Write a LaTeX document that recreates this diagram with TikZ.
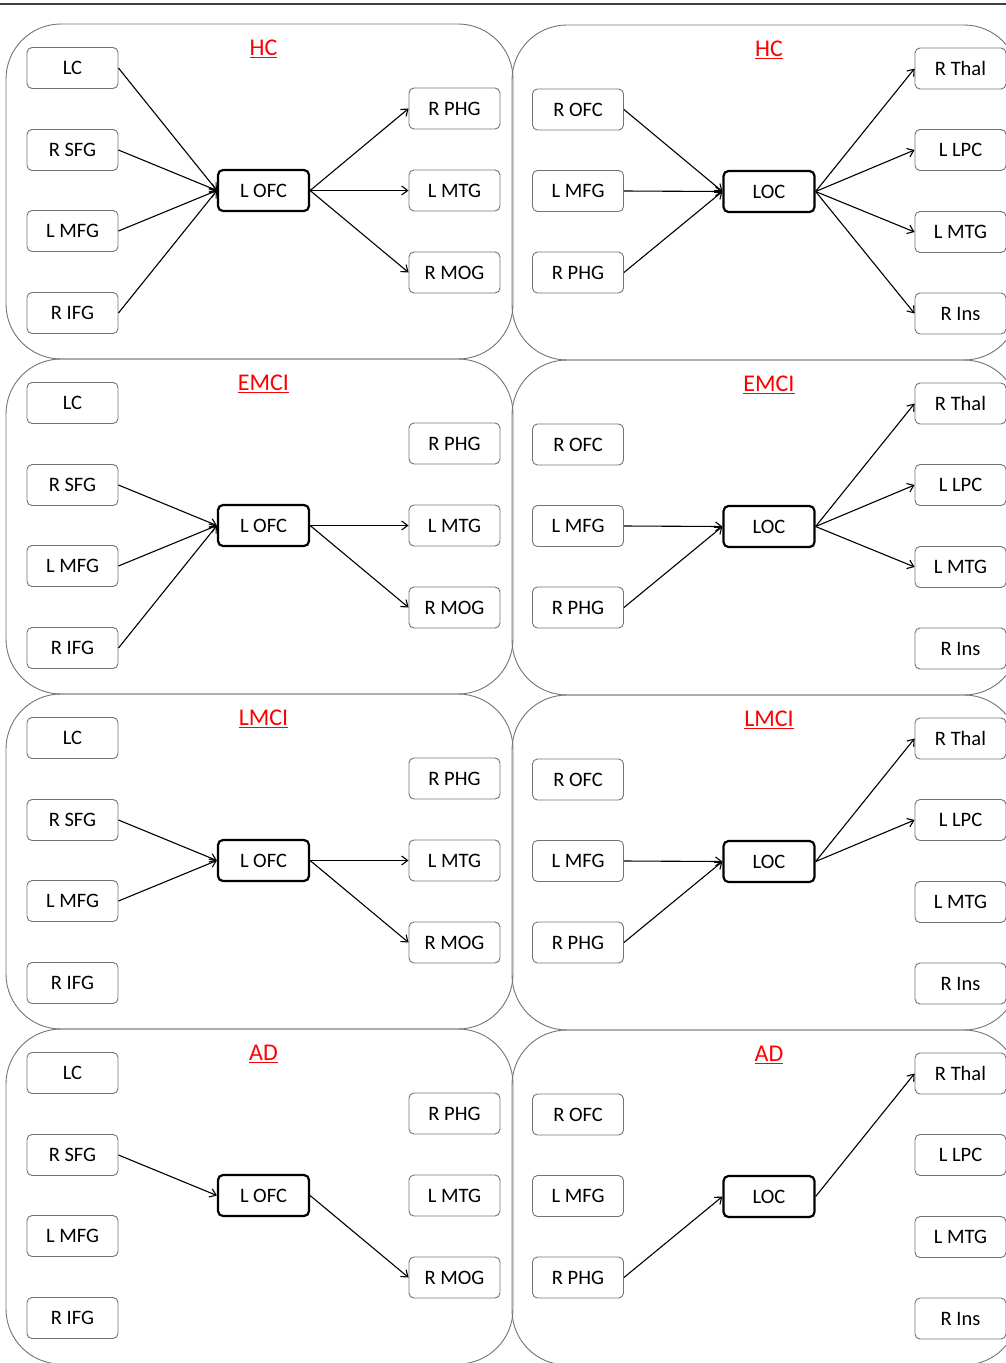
\documentclass[tikz,border=0pt]{standalone}
\usepackage{fontspec}
\setmainfont{Carlito}
\usetikzlibrary{arrows.meta}
\tikzset{
  panel/.style={draw=black!55, line width=0.9pt, rounded corners=55pt},
  region/.style={draw=black!55, line width=0.9pt, rounded corners=5pt,
    minimum width=91pt, minimum height=41pt, inner sep=0pt,
    text height=13pt, text depth=0pt, font=\fontsize{20.5}{21}\selectfont},
  hub/.style={region, draw=black, line width=2.2pt},
  link/.style={draw=black, line width=1.1pt, -{Straight Barb[length=6pt,width=9pt]}},
  grouptitle/.style={text=red, anchor=base, font=\fontsize{24}{26}\selectfont},
}
\newcommand{\leftgroup}[3]{%
  \begin{scope}[shift={(0,#2)}]
    \draw[panel] (6,24) rectangle (513,359);
    \node[grouptitle] (#1title) at (263.5,55.5) {\underline{#3}};
    \node[region] (#1LC)   at (72.5,68)  {LC};
    \node[region] (#1RSFG) at (72.5,150) {R SFG};
    \node[region] (#1LMFG) at (72.5,231) {L MFG};
    \node[region] (#1RIFG) at (72.5,313) {R IFG};
    \node[hub]    (#1LOFC) at (263.5,190.5) {L OFC};
    \node[region] (#1RPHG) at (454.5,108.5) {R PHG};
    \node[region] (#1LMTG) at (454.5,190.5) {L MTG};
    \node[region] (#1RMOG) at (454.5,272.5) {R MOG};
  \end{scope}}
\newcommand{\rightgroup}[3]{%
  \begin{scope}[shift={(0,#2)}]
    \draw[panel] (512,25) rectangle (1019,360);
    \node[grouptitle] (#1title) at (769,56.5) {\underline{#3}};
    \node[region] (#1ROFC) at (578,109.5) {R OFC};
    \node[region] (#1LMFG) at (578,191)   {L MFG};
    \node[region] (#1RPHG) at (578,272.5) {R PHG};
    \node[hub]    (#1LOC)  at (769,191.5) {LOC};
    \node[region] (#1RThal) at (960.5,68.5) {R Thal};
    \node[region] (#1LLPC)  at (960.5,150)  {L LPC};
    \node[region] (#1LMTG)  at (960.5,232)  {L MTG};
    \node[region] (#1RIns)  at (960.5,313.5) {R Ins};
  \end{scope}}
\begin{document}
\begin{tikzpicture}[x=1pt, y=-1pt]
  \useasboundingbox (0,0) rectangle (1006,1363);
  \clip (0,0) rectangle (1006,1363);
  \draw[black!75, line width=1.3pt] (0,4) -- (1006,4);

  % left column
  \leftgroup{a}{0}{HC}
  \leftgroup{b}{335}{EMCI}
  \leftgroup{c}{670}{LMCI}
  \leftgroup{d}{1005}{AD}
  % right column
  \rightgroup{e}{0}{HC}
  \rightgroup{f}{335}{EMCI}
  \rightgroup{g}{670}{LMCI}
  \rightgroup{h}{1005}{AD}

  % HC left
  \foreach \s in {LC,RSFG,LMFG,RIFG} \draw[link] (a\s.east) -- (aLOFC.west);
  \foreach \t in {RPHG,LMTG,RMOG} \draw[link] (aLOFC.east) -- (a\t.west);
  % EMCI left
  \foreach \s in {RSFG,LMFG,RIFG} \draw[link] (b\s.east) -- (bLOFC.west);
  \foreach \t in {LMTG,RMOG} \draw[link] (bLOFC.east) -- (b\t.west);
  % LMCI left
  \foreach \s in {RSFG,LMFG} \draw[link] (c\s.east) -- (cLOFC.west);
  \foreach \t in {LMTG,RMOG} \draw[link] (cLOFC.east) -- (c\t.west);
  % AD left
  \draw[link] (dRSFG.east) -- (dLOFC.west);
  \draw[link] (dLOFC.east) -- (dRMOG.west);

  % HC right
  \foreach \s in {ROFC,LMFG,RPHG} \draw[link] (e\s.east) -- (eLOC.west);
  \foreach \t in {RThal,LLPC,LMTG,RIns} \draw[link] (eLOC.east) -- (e\t.west);
  % EMCI right
  \foreach \s in {LMFG,RPHG} \draw[link] (f\s.east) -- (fLOC.west);
  \foreach \t in {RThal,LLPC,LMTG} \draw[link] (fLOC.east) -- (f\t.west);
  % LMCI right
  \foreach \s in {LMFG,RPHG} \draw[link] (g\s.east) -- (gLOC.west);
  \foreach \t in {RThal,LLPC} \draw[link] (gLOC.east) -- (g\t.west);
  % AD right
  \draw[link] (hRPHG.east) -- (hLOC.west);
  \draw[link] (hLOC.east) -- (hRThal.west);
\end{tikzpicture}
\end{document}
